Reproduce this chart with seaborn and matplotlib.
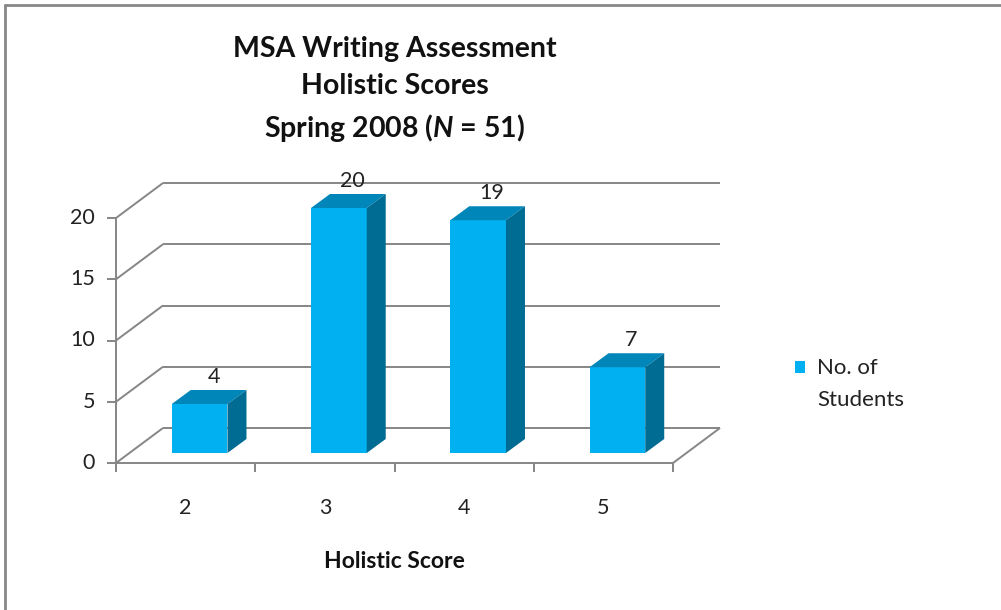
import numpy as np
import matplotlib
matplotlib.use('Agg')
import matplotlib.pyplot as plt
import seaborn as sns
from matplotlib.patches import Patch, Rectangle
from matplotlib.lines import Line2D
from matplotlib.legend_handler import HandlerPatch

# data
scores = ['2', '3', '4', '5']
students = [4, 20, 19, 7]
yticks = [0, 5, 10, 15, 20]

front_col = '#00B0F0'
top_col = '#0086B8'
side_col = '#006C94'
grid_col = '#868686'

sns.set_style('white')
plt.rcParams['font.family'] = ['Lato', 'DejaVu Sans']
plt.rcParams['mathtext.fontset'] = 'custom'
plt.rcParams['mathtext.rm'] = 'Lato:bold'
plt.rcParams['mathtext.it'] = 'Lato:bold:italic'

fig = plt.figure(figsize=(10.01, 6.10), dpi=100)
# axes frame = plane in which the bars stand
ax = fig.add_axes([130 / 1001, 157 / 610, 557 / 1001, 245 / 610])
ax.set_xlim(-0.5, 3.5)
ax.set_ylim(0, 20)
ax.axis('off')

# pixel -> data unit factors
px_x = 557 / 4
px_y = 245 / 20
FX, FY = -14 / px_x, -10 / px_y   # front plane (axis lines)
BX, BY = 33 / px_x, 25 / px_y     # back wall
DX, DY = 19 / px_x, 14 / px_y     # bar depth

kw = dict(color=grid_col, lw=1.4, clip_on=False, solid_capstyle='butt', zorder=1)
x_left, x_right = -0.5, 3.5
txt = '#222222'

# back wall gridlines and side wall lines
for v in yticks:
    ax.plot([x_left + BX, x_right + BX], [v + BY, v + BY], **kw)
    ax.plot([x_left + FX, x_left + BX], [v + FY, v + BY], **kw)

# floor
ax.plot([x_left + FX, x_right + FX], [FY, FY], **kw)
ax.plot([x_right + FX, x_right + BX], [FY, BY], **kw)

# bars: front faces by seaborn, depth faces added
sns.barplot(x=scores, y=students, color=front_col, saturation=1, width=0.4,
            linewidth=0, ax=ax, zorder=3)
w = 0.4
for i, v in enumerate(students):
    x0, x1 = i - w / 2, i + w / 2
    ax.fill([x0, x1, x1 + DX, x0 + DX], [v, v, v + DY, v + DY],
            color=top_col, lw=0, clip_on=False, zorder=3)
    ax.fill([x1, x1 + DX, x1 + DX, x1], [0, DY, v + DY, v],
            color=side_col, lw=0, clip_on=False, zorder=3)
    ax.text(i + 0.1, v + DY + 3 / px_y, str(v), ha='center', va='bottom',
            fontsize=15.5, color=txt, clip_on=False)
ax.set_xlim(-0.5, 3.5)
ax.set_ylim(0, 20)

# value axis
ax.plot([x_left + FX, x_left + FX], [FY, 20 + FY], **kw)
for v in yticks:
    ax.plot([x_left + FX - 9 / px_x, x_left + FX], [v + FY, v + FY], **kw)
    ax.text(x_left + FX - 21 / px_x, v + FY, str(v), ha='right', va='center',
            fontsize=15.5, color=txt)

# category axis ticks and labels
for k in range(len(scores) + 1):
    xe = x_left + k + FX
    ax.plot([xe, xe], [FY, FY - 9 / px_y], **kw)
for i, s in enumerate(scores):
    ax.text(i + FX, FY - 45 / px_y, s, ha='center', va='center',
            fontsize=15.5, color=txt)

ax.text(1.5 + FX, FY - 98 / px_y, 'Holistic Score', ha='center', va='center',
        fontsize=16.5, fontweight='bold', color='#111111')

fig.text(395 / 1001, 1 - 90 / 610,
         'MSA Writing Assessment\nHolistic Scores\nSpring 2008 ($\\mathit{N}$ = 51)',
         ha='center', va='center', fontsize=20.5, fontweight='bold',
         linespacing=1.5, color='#111111')


# legend: square next to the first line of the label
def top_square(legend, orig_handle, xdescent, ydescent, width, height, fontsize):
    return Rectangle((-xdescent, -ydescent + fontsize * 0.78), width, height)


handle = Patch(facecolor=front_col, edgecolor='none')
leg = fig.legend([handle], ['No. of\nStudents'], loc='center left',
                 bbox_to_anchor=(775 / 1001, 1 - 384 / 610), frameon=False,
                 fontsize=16, handlelength=0.45, handleheight=0.45,
                 handletextpad=0.55, labelcolor=txt,
                 handler_map={Patch: HandlerPatch(patch_func=top_square)})
leg.get_texts()[0].set_linespacing(1.7)

# chart border (top and left)
fig.add_artist(Line2D([5 / 1001, 1], [1 - 5 / 610, 1 - 5 / 610],
                      color='#888888', lw=2, transform=fig.transFigure))
fig.add_artist(Line2D([5 / 1001, 5 / 1001], [0, 1 - 5 / 610],
                      color='#888888', lw=2, transform=fig.transFigure))

fig.savefig('out.png', dpi=100)
